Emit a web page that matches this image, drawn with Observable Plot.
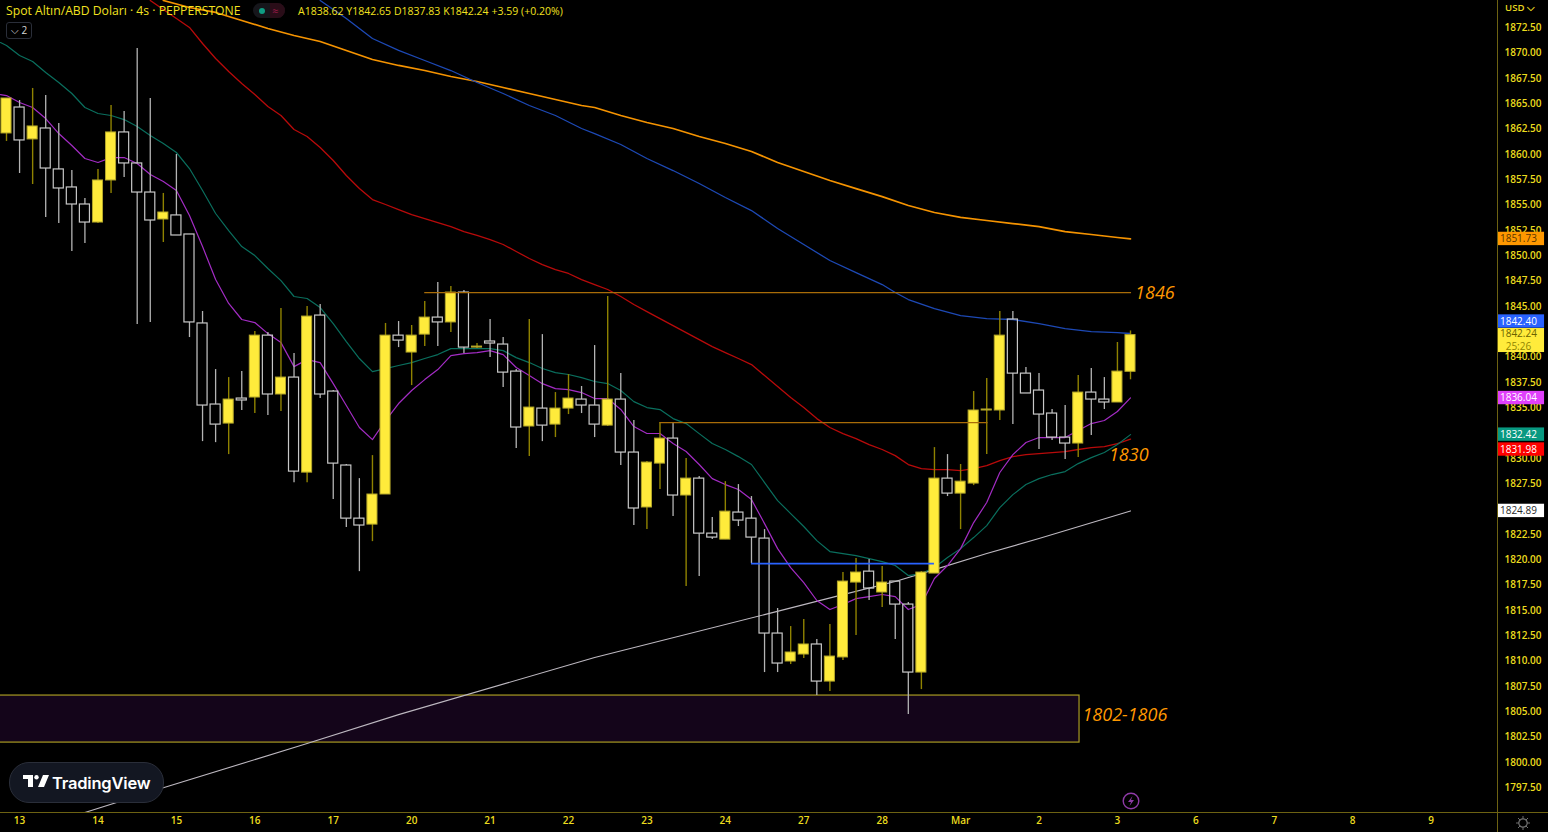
<!DOCTYPE html>
<html><head><meta charset="utf-8">
<script src="https://cdn.jsdelivr.net/npm/d3@7"></script>
<script src="https://cdn.jsdelivr.net/npm/@observablehq/plot@0.6"></script>
<style>
html,body{margin:0;padding:0;background:#000;width:1548px;height:832px;overflow:hidden}
#wrap{position:relative;width:1548px;height:832px}
#wrap svg.chart, #wrap>svg{display:block}
.o{position:absolute;white-space:nowrap;font-family:"Open Sans",sans-serif}
</style></head><body><div id="wrap"></div>
<script>
const opens=[1862.14,1864.70,1861.55,1862.63,1858.59,1856.81,1855.13,1853.35,1857.50,1862.24,1859.18,1856.31,1853.65,1854.05,1852.17,1843.39,1835.39,1833.51,1835.98,1836.08,1842.19,1836.38,1838.05,1828.67,1844.17,1836.67,1829.37,1824.13,1823.54,1826.51,1842.19,1840.52,1842.29,1843.97,1843.49,1846.44,1841.01,1841.61,1841.31,1838.64,1833.22,1834.99,1833.41,1834.99,1835.88,1835.29,1833.31,1835.88,1830.65,1825.23,1829.56,1832.03,1826.41,1828.08,1822.65,1822.06,1824.73,1824.13,1822.16,1812.79,1810.03,1810.72,1811.71,1808.05,1810.43,1817.82,1818.90,1816.84,1817.92,1815.65,1808.94,1818.71,1828.08,1826.60,1827.59,1834.80,1834.80,1843.78,1838.44,1836.77,1834.50,1832.13,1831.54,1836.57,1835.88,1835.59,1838.62];
const highs=[1865.59,1865.39,1866.58,1865.89,1863.12,1858.49,1855.72,1858.59,1864.90,1864.31,1870.53,1865.59,1856.22,1860.06,1852.17,1844.57,1838.84,1838.05,1838.65,1842.59,1842.49,1844.86,1840.42,1845.06,1845.26,1836.77,1829.47,1828.08,1830.35,1843.39,1843.58,1843.19,1845.55,1847.42,1847.03,1846.64,1841.41,1843.78,1842.00,1838.84,1843.78,1842.29,1836.57,1838.35,1837.17,1841.21,1846.05,1838.44,1833.81,1829.76,1833.61,1833.61,1830.06,1828.28,1824.23,1827.78,1827.49,1826.31,1823.05,1815.26,1813.48,1814.17,1812.20,1813.68,1818.81,1820.19,1820.09,1819.40,1817.92,1815.85,1818.90,1831.14,1830.45,1829.47,1836.67,1837.95,1844.57,1844.57,1839.04,1838.44,1834.90,1835.29,1838.25,1838.94,1838.05,1841.51,1842.65];
const lows=[1861.35,1858.19,1857.10,1853.85,1853.25,1850.49,1851.28,1853.25,1856.22,1857.80,1843.29,1843.49,1851.38,1852.07,1842.00,1831.73,1831.63,1830.45,1834.80,1834.50,1834.30,1834.70,1827.68,1827.68,1835.98,1826.02,1823.25,1818.90,1821.86,1826.51,1841.01,1837.26,1841.11,1841.11,1842.49,1840.42,1840.91,1840.03,1837.07,1831.04,1830.25,1831.73,1832.13,1834.40,1834.50,1832.13,1833.22,1829.37,1823.45,1823.05,1827.00,1824.33,1817.43,1818.41,1822.06,1822.06,1823.35,1819.69,1808.94,1808.94,1809.73,1810.33,1806.67,1807.07,1810.13,1812.60,1816.05,1815.36,1812.20,1804.80,1807.26,1818.71,1826.31,1823.05,1827.39,1830.45,1833.81,1833.41,1836.48,1830.95,1831.83,1829.96,1830.16,1832.33,1834.90,1835.59,1837.83];
const closes=[1865.59,1861.45,1862.83,1858.68,1856.71,1855.13,1853.35,1857.50,1862.24,1859.18,1856.31,1853.55,1854.34,1852.07,1843.49,1835.29,1833.41,1835.88,1835.79,1842.19,1836.38,1838.05,1828.77,1844.07,1836.38,1829.56,1824.13,1823.45,1826.51,1842.19,1841.70,1842.19,1843.97,1843.49,1846.44,1841.01,1841.11,1841.41,1838.54,1833.12,1835.09,1833.31,1834.99,1835.98,1835.29,1833.41,1835.88,1830.65,1825.13,1829.66,1832.03,1826.41,1828.08,1822.65,1822.26,1824.82,1823.94,1822.26,1812.79,1809.83,1810.92,1811.71,1808.05,1810.52,1817.92,1818.81,1817.23,1817.82,1815.65,1808.94,1818.81,1828.08,1826.60,1827.78,1834.80,1834.90,1842.19,1838.44,1836.48,1834.40,1832.13,1831.54,1836.57,1835.88,1835.59,1838.64,1842.24];

const maFast=[1865.88,1865.19,1864.70,1863.61,1862.13,1860.95,1859.67,1859.27,1859.76,1859.76,1859.17,1858.09,1857.39,1856.51,1854.04,1850.98,1847.72,1845.36,1843.78,1843.48,1842.39,1841.50,1839.13,1839.82,1839.53,1837.45,1835.30,1833.12,1831.93,1833.81,1835.49,1836.77,1837.85,1838.84,1840.22,1840.42,1840.52,1840.71,1840.32,1839.04,1838.25,1837.45,1836.96,1836.86,1836.57,1835.98,1835.98,1834.90,1833.22,1832.53,1832.53,1831.54,1830.75,1829.47,1828.08,1827.49,1827.00,1826.01,1823.64,1821.17,1819.30,1817.82,1816.05,1815.16,1815.65,1816.24,1816.44,1816.64,1816.44,1815.16,1815.65,1818.22,1819.50,1821.17,1823.74,1825.72,1828.68,1830.45,1831.64,1832.13,1832.13,1832.13,1832.82,1833.51,1833.81,1834.70,1836.04];
const maMid=[1870.82,1869.83,1869.24,1868.15,1867.17,1866.08,1864.70,1864.11,1863.91,1863.51,1862.82,1861.93,1861.15,1860.26,1858.68,1856.51,1854.24,1852.56,1850.98,1850.09,1848.81,1847.62,1846.05,1845.85,1844.96,1843.38,1841.60,1839.93,1838.64,1838.94,1839.24,1839.53,1839.93,1840.32,1840.91,1840.91,1840.91,1840.91,1840.71,1840.02,1839.53,1838.94,1838.54,1838.35,1838.05,1837.66,1837.46,1836.77,1835.68,1835.09,1834.89,1834.00,1833.51,1832.52,1831.54,1830.95,1830.25,1829.47,1827.69,1825.91,1824.63,1823.35,1821.96,1820.88,1820.68,1820.48,1820.19,1819.89,1819.50,1818.51,1818.71,1819.30,1820.29,1821.17,1822.26,1823.44,1825.22,1826.50,1827.49,1828.08,1828.48,1828.77,1829.56,1830.15,1830.65,1831.44,1832.42];
const leadBar=-0.46, maFastLead=1865.98, maMidLead=1871.11;
const redStart=11;
const maRed=[1875.26,1874.37,1873.48,1872.60,1871.02,1869.54,1868.25,1867.07,1865.98,1864.80,1863.91,1862.53,1861.84,1860.75,1859.47,1857.99,1856.70,1855.62,1855.13,1854.63,1854.14,1853.74,1853.35,1852.95,1852.46,1852.07,1851.67,1851.18,1850.49,1849.80,1849.20,1848.71,1848.32,1847.72,1847.23,1846.74,1846.05,1845.26,1844.56,1843.87,1843.18,1842.49,1841.80,1841.11,1840.52,1839.93,1839.33,1838.25,1837.16,1836.08,1835.09,1834.00,1833.12,1832.52,1832.03,1831.44,1830.95,1830.35,1829.47,1829.07,1828.97,1828.97,1828.87,1829.07,1829.37,1829.86,1830.25,1830.45,1830.55,1830.65,1830.75,1830.95,1831.14,1831.24,1831.54,1831.98];
const blueBars=[24,26,28,30,32,34,36,38,40,42,44,45,47,49,51,53,55,57,59,61,63,65,67,68,69,71,73,75,77,79,81,83,85,86];
const maBlue=[1875.26,1873.48,1871.51,1870.33,1869.34,1868.35,1867.17,1866.08,1864.90,1863.91,1862.63,1862.13,1861.05,1859.67,1858.48,1857.20,1855.82,1854.53,1852.76,1851.18,1849.60,1848.41,1847.23,1846.44,1845.75,1844.86,1844.17,1843.87,1843.78,1843.38,1842.89,1842.59,1842.49,1842.40];
const orangeBars=[12,14,16,18,20,22,24,26,28,30,32,34,36,38,40,42,44,45,47,49,51,53,55,57,59,61,63,65,67,69,71,73,75,77,79,81,83,85,86];
const maOrange=[1875.26,1874.57,1874.08,1873.29,1872.50,1871.81,1871.21,1870.33,1869.44,1868.85,1868.35,1867.76,1867.27,1866.67,1866.08,1865.49,1864.90,1864.70,1863.91,1863.22,1862.63,1861.84,1861.15,1860.36,1859.27,1858.38,1857.50,1856.70,1855.91,1855.03,1854.34,1853.85,1853.55,1853.25,1852.95,1852.46,1852.17,1851.87,1851.73];
const whiteBars=[6,12,23,30,45,58,64,68,71,75,79,86];
const maWhite=[1795.13,1797.58,1801.93,1804.79,1810.42,1814.66,1816.63,1817.92,1819.10,1820.68,1822.16,1824.89];

const levelStart=[32,50,57], levelEnd=[86.08,75.1,71], levelPrice=[1846.44,1833.61,1819.69], levelColor=["#a86c08","#a86c08","#2962ff"], levelWidth=[1.3,1.3,1.9];
const zoneX1=-1, zoneX2=82.1, zoneLow=1802.03, zoneHigh=1806.67;
const noteText=["1846","1830","1802-1806"], noteBar=[86.35,84.35,82.32], notePrice=[1846.34,1830.35,1804.69];

const xTickBars=[1,7,13,19,25,31,37,43,49,55,61,67,73,79,85,91,97,103,109];
const xTickLabels=["13","14","15","16","17","20","21","22","23","24","27","28","Mar","2","3","6","7","8","9"];
const hiddenTicks=[1842.5,1832.5,1825];
const yTicks=d3.range(1797.5,1875,2.5).filter(t=>!hiddenTicks.includes(t));

const xMin=-0.459, xMax=114.08, yMin=1795.13, yMax=1875.26;
const tagLabels=["1851.73","1842.40","1836.04","1832.42","1831.98","1824.89"];
const tagPrice=[1851.73,1843.58,1836.03,1832.42,1830.95,1824.89];
const tagFill=["#ff9800","#2962ff","#e040fb","#089981","#ff0000","#ffffff"];
const tagInk=["#5a3600","#ffffff","#ffffff","#ffffff","#ffffff","#2a2a2a"];
const tagWidth=3.6, tagHalf=0.66, tagTextX=xMax+1.6;

const candles=opens.map((o,i)=>({i,o,h:highs[i],l:lows[i],c:closes[i],up:closes[i]>=o,top:Math.max(o,closes[i]),bot:Math.min(o,closes[i])}));
const series=(vals,bars)=>vals.map((v,k)=>({x:bars?bars[k]:k,y:v}));
const up=candles.filter(d=>d.up), down=candles.filter(d=>!d.up);
const tags=tagLabels.map((t,k)=>({t,p:tagPrice[k],f:tagFill[k],k:tagInk[k]}));
const wickUp="#8f8200", wickDn="#b4b4b4", axisInk="#ecdc1e";
const hw=0.385;

const chart=Plot.plot({
  width:1548,height:832,marginTop:0,marginLeft:0,marginRight:51,marginBottom:20,
  style:{background:"#000",overflow:"visible",fontFamily:'"Open Sans",sans-serif'},
  x:{type:"linear",domain:[xMin,xMax]},
  y:{type:"linear",domain:[yMin,yMax]},
  marks:[
    Plot.rect([0],{x1:zoneX1,x2:zoneX2,y1:zoneLow,y2:zoneHigh,fill:"#14051a",stroke:"#a89a22",strokeWidth:1.2}),
    Plot.line(series(maWhite,whiteBars),{x:"x",y:"y",stroke:"#bdb8c0",strokeWidth:1.1,clip:true}),
    Plot.line(series(maOrange,orangeBars),{x:"x",y:"y",stroke:"#f59300",strokeWidth:1.7,clip:true}),
    Plot.line(series(maBlue,blueBars),{x:"x",y:"y",stroke:"#1d49b5",strokeWidth:1.3,clip:true}),
    Plot.line(maRed.map((v,k)=>({x:k+redStart,y:v})),{x:"x",y:"y",stroke:"#b80a0a",strokeWidth:1.3,clip:true}),
    Plot.line([{x:leadBar,y:maMidLead},...series(maMid)],{x:"x",y:"y",stroke:"#0a6f5e",strokeWidth:1.2,clip:true}),
    Plot.line([{x:leadBar,y:maFastLead},...series(maFast)],{x:"x",y:"y",stroke:"#a32cc4",strokeWidth:1.2,clip:true}),
    Plot.ruleX(up,{x:"i",y1:"l",y2:"h",stroke:wickUp,strokeWidth:1.4}),
    Plot.ruleX(down,{x:"i",y1:"top",y2:"h",stroke:wickDn,strokeWidth:1.3}),
    Plot.ruleX(down,{x:"i",y1:"l",y2:"bot",stroke:wickDn,strokeWidth:1.3}),
    Plot.rect(down,{x1:d=>d.i-hw,x2:d=>d.i+hw,y1:"top",y2:"bot",fill:"none",stroke:"#c8c8c8",strokeWidth:1.2}),
    Plot.rect(up,{x1:d=>d.i-hw,x2:d=>d.i+hw,y1:"top",y2:"bot",fill:"#ffeb3b",stroke:"#b5a82a",strokeWidth:1}),
    Plot.ruleY(levelPrice.map((p,k)=>k),{y:k=>levelPrice[k],x1:k=>levelStart[k],x2:k=>levelEnd[k],stroke:k=>levelColor[k],strokeWidth:k=>levelWidth[k]}),
    Plot.text(noteText,{x:(d,k)=>noteBar[k],y:(d,k)=>notePrice[k],text:d=>d,textAnchor:"start",fill:"#ff9800",fontSize:18,fontStyle:"italic",fontFamily:'"Open Sans",sans-serif'}),
    Plot.axisX({anchor:"bottom",ticks:xTickBars,tickFormat:d=>xTickLabels[xTickBars.indexOf(d)],tickSize:0,tickPadding:4,fontSize:10,fontWeight:600,color:axisInk}),
    Plot.axisY({anchor:"right",ticks:yTicks,tickFormat:d3.format(".2f"),tickSize:0,tickPadding:7,dy:-0.7,fontSize:10,fontWeight:600,color:axisInk,label:null}),
    Plot.rect(tags,{x1:xMax,x2:xMax+tagWidth,y1:d=>d.p-tagHalf,y2:d=>d.p+tagHalf,fill:d=>d.f,clip:false}),
    Plot.text(tags,{x:tagTextX,y:"p",text:"t",fill:d=>d.k,fontSize:10,fontWeight:500}),
    Plot.rect([0],{x1:xMax,x2:xMax+tagWidth,y1:1840.52,y2:1842.89,fill:"#ffeb3b"}),
    Plot.text(["1842.24"],{x:tagTextX,y:1842.33,text:d=>d,fill:"#6b6200",fontSize:10,fontWeight:500}),
    Plot.text(["25:26"],{x:tagTextX,y:1841.12,text:d=>d,fill:"#8f8400",fontSize:10}),
  ]
});
chart.style.display="block";
const wrap=document.getElementById("wrap");
wrap.appendChild(chart);
const add=(html)=>{wrap.insertAdjacentHTML("beforeend",html)};
add('<div style="position:absolute;left:0;top:812px;width:1548px;height:1px;background:#6d6212"></div>');
add('<div style="position:absolute;left:1497px;top:0;width:1px;height:832px;background:#6d6212"></div>');
add('<div class="o" style="left:6px;top:2px;color:#f2e21f;font-size:12.2px;font-weight:500;line-height:18px">Spot Altın/ABD Doları · 4s · PEPPERSTONE</div>');
add('<div class="o" style="left:298px;top:3px;color:#f2e21f;font-size:10.5px;font-weight:500;line-height:17px;word-spacing:0.2px">A1838.62 Y1842.65 D1837.83 K1842.24 +3.59 (+0.20%)</div>');
add('<div style="position:absolute;left:253px;top:3px;width:32px;height:15px;border-radius:8px;background:#16161b"></div>');
add('<div style="position:absolute;left:270px;top:3px;width:15px;height:15px;border-radius:0 8px 8px 0;background:#2a0d18"></div>');
add('<div style="position:absolute;left:259px;top:8px;width:6px;height:6px;border-radius:3px;background:#0f9d83"></div>');
add('<div class="o" style="left:272px;top:3px;color:#a01c4c;font-size:11px;line-height:15px">≈</div>');
add('<div class="o" style="left:6px;top:22px;width:24px;height:15px;border:1px solid #2a2e39;border-radius:3px;color:#d8d8d8;font-size:10px;line-height:15px;text-align:center">⌵ 2</div>');
add('<div class="o" style="left:1505px;top:1px;color:#e8d820;font-size:9.6px;font-weight:600;line-height:14px">USD ⌵</div>');
add('<div style="position:absolute;left:9px;top:762px;width:153px;height:39px;border-radius:20px;background:#131722;border:1px solid #2a2e39"></div>');
add('<svg style="position:absolute;left:23px;top:775px" width="26" height="14" viewBox="0 0 26 14"><path d="M0 0h10v12H5V4H0z" fill="#fff"/><circle cx="13.5" cy="2.2" r="2.2" fill="#fff"/><path d="M20 0h6l-5 12h-6z" fill="#fff"/></svg>');
add('<div class="o" style="left:52px;top:771px;color:#fff;font-size:16.5px;font-weight:600;line-height:24px;font-family:Inter,sans-serif;letter-spacing:-.2px">TradingView</div>');
add('<svg style="position:absolute;left:1122px;top:792px" width="18" height="18" viewBox="0 0 18 18"><circle cx="9" cy="9" r="7.8" fill="none" stroke="#8e3aa6" stroke-width="1.4"/><path d="M10.5 4 6 10h3l-1.5 4L12 8H9z" fill="#8e3aa6"/></svg>');
add('<svg style="position:absolute;left:1516px;top:816px" width="14" height="14" viewBox="0 0 14 14"><circle cx="7" cy="7" r="4.2" fill="none" stroke="#6f6f6f" stroke-width="1.2"/><path d="M7 0v3M7 11v3M0 7h3M11 7h3M2 2l2 2M10 10l2 2M12 2l-2 2M4 10l-2 2" stroke="#6f6f6f" stroke-width="1"/></svg>');
</script></body></html>
